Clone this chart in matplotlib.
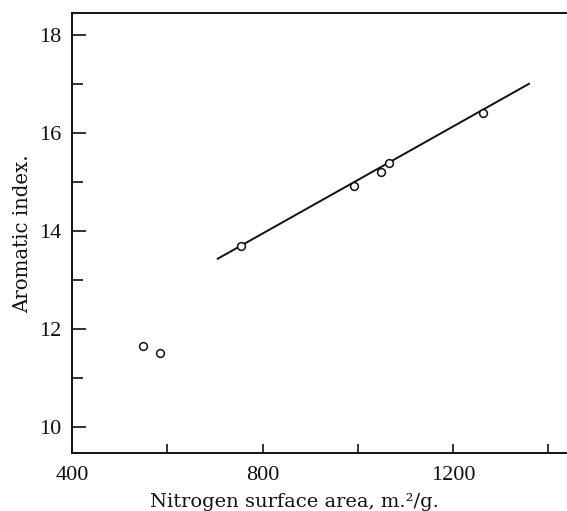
import matplotlib
matplotlib.use("Agg")
import matplotlib.pyplot as plt
from matplotlib.ticker import FixedLocator, FuncFormatter

# Measured samples
surface_area = [548, 584, 755, 992, 1048, 1066, 1263]
aromatic_index = [11.65, 11.50, 13.69, 14.92, 15.20, 15.39, 16.41]

# Fitted straight line through the upper group
fit_x = [704, 1361]
fit_y = [13.42, 17.01]

x_ticks = [400, 600, 800, 1000, 1200, 1400]
x_labels = {400: "400", 800: "800", 1200: "1200"}
y_major = [10, 12, 14, 16, 18]
y_minor = [11, 13, 15, 17]

plt.rcParams["font.family"] = ["Liberation Serif", "DejaVu Serif"]
ink = "#111111"
label_font = ["DejaVu Serif", "Liberation Serif"]

fig = plt.figure(figsize=(5.67, 5.11), dpi=100)
ax = fig.add_axes([0.1272, 0.1129, 0.8728, 0.8611])

ax.plot(fit_x, fit_y, color=ink, lw=1.4, solid_capstyle="butt")
ax.plot(surface_area, aromatic_index, linestyle="none", marker="o",
        markersize=5.6, markerfacecolor="white", markeredgecolor=ink,
        markeredgewidth=1.1)

ax.set_xlim(400, 1439)
ax.set_ylim(9.457, 18.44)

ax.spines["right"].set_visible(False)
for s in ("left", "bottom", "top"):
    ax.spines[s].set_linewidth(1.4)
    ax.spines[s].set_color(ink)

ax.xaxis.set_major_locator(FixedLocator(x_ticks))
ax.xaxis.set_major_formatter(FuncFormatter(lambda v, p: x_labels.get(int(round(v)), "")))
ax.yaxis.set_major_locator(FixedLocator(y_major))
ax.yaxis.set_minor_locator(FixedLocator(y_minor))
ax.yaxis.set_major_formatter(FuncFormatter(lambda v, p: f"{int(v)}"))

ax.tick_params(axis="x", which="major", direction="in", length=6.5, width=1.2,
               pad=9, labelsize=16, colors=ink, top=False)
ax.tick_params(axis="y", which="major", direction="in", length=10, width=1.2,
               pad=8, labelsize=16, colors=ink, right=False)
ax.tick_params(axis="y", which="minor", direction="in", length=8, width=1.2,
               right=False, colors=ink)

ax.set_xlabel("Nitrogen surface area, m.²/g.", fontsize=14, color=ink,
              family=label_font)
ax.set_ylabel("Aromatic index.", fontsize=14.2, color=ink, family=label_font)
ax.xaxis.set_label_coords(0.45, -0.090)
ax.yaxis.set_label_coords(-0.080, 0.5)

fig.savefig("out.png", dpi=100)
